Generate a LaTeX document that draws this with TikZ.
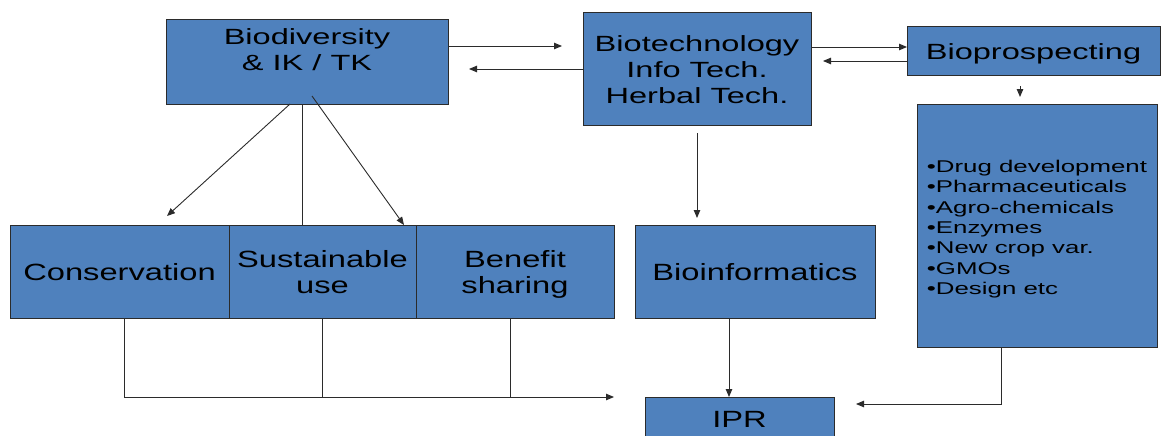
\documentclass[tikz,border=0pt]{standalone}
\usepackage{fontspec}
\setmainfont{Liberation Sans}
\usetikzlibrary{arrows.meta,calc}
\definecolor{boxblue}{HTML}{4F81BD}
\definecolor{edgecol}{HTML}{2B2B2B}
\newcommand{\dn}[1]{\raisebox{-4pt}[\height][\depth]{#1}}
\newcommand{\mt}[1]{\dn{\scalebox{1.48}[1]{\begin{tabular}{@{}c@{}}#1\end{tabular}}}}
\newcommand{\mb}[1]{\dn{\scalebox{1.39}[1]{\begin{tabular}{@{}c@{}}#1\end{tabular}}}}
\begin{document}
\begin{tikzpicture}[x=1pt,y=-1pt,
  box/.style={draw=edgecol, line width=0.9pt, fill=boxblue, inner sep=0pt, outer sep=0pt,
    anchor=north west, font=\fontsize{22}{26}\selectfont, text=black},
  lowbox/.style={box, font=\fontsize{23.5}{26}\selectfont},
  arr/.style={draw=edgecol, line width=0.9pt, -{Triangle[length=8pt,width=6.5pt]}},
  ln/.style={draw=edgecol, line width=0.9pt}]
\useasboundingbox (0,0) rectangle (1162,436);
\clip (0,0) rectangle (1162,436);

% boxes
\node[box, minimum width=282pt, minimum height=85pt] (bio) at (166,19) {\mt{Biodiversity\\\& IK / TK\\ ~}};
\node[box, minimum width=228pt, minimum height=113pt] (biotech) at (583,12) {\mt{Biotechnology\\Info Tech.\\Herbal Tech.}};
\node[box, minimum width=253pt, minimum height=49pt] (bp) at (907,26) {\mt{Bioprospecting}};
\node[box, minimum width=240pt, minimum height=243pt, font=\fontsize{17}{20.3}\selectfont] (list) at (917,104)
  {\dn{\scalebox{1.52}[1]{\begin{tabular}{@{}l@{}}•Drug development\\•Pharmaceuticals\\•Agro-chemicals\\•Enzymes\\•New crop var.\\•GMOs\\•Design etc\end{tabular}}}};
\node[lowbox, minimum width=219pt, minimum height=93pt] (cons) at (10,225) {\mb{Conservation}};
\node[lowbox, minimum width=187pt, minimum height=93pt] (sust) at (229,225) {\mb{Sustainable\\use}};
\node[lowbox, minimum width=198pt, minimum height=93pt] (ben) at (416,225) {\mb{Benefit\\sharing}};
\node[lowbox, minimum width=240pt, minimum height=93pt] (bioinf) at (635,225) {\mb{Bioinformatics}};
\node[lowbox, minimum width=189pt, minimum height=42pt] (ipr) at (645,397) {\mb{IPR}};

% helper coordinates
\coordinate (c1) at (562,46);
\coordinate (c2) at (469,69);
\coordinate (c3) at (0,47);
\coordinate (c4) at (823,61);
\coordinate (c5a) at (1020,86);
\coordinate (c5b) at (1020,97);
\coordinate (c6a) at (697,133);
\coordinate (c6b) at (697,218);
\coordinate (c7) at (729,0);
\coordinate (c8) at (1001,404);
\coordinate (c8e) at (856,404);
\coordinate (c9) at (290,0);
\coordinate (c9e) at (167,216);
\coordinate (c10) at (302,0);
\coordinate (c11) at (312,96);
\coordinate (c11e) at (404,0);
\coordinate (c12a) at (124,397);
\coordinate (c12b) at (322,397);
\coordinate (c12c) at (510,397);
\coordinate (c12e) at (614,397);

% connectors
\draw[arr] (bio.east |- c1) -- (c1);
\draw[arr] (biotech.west |- c2) -- (c2);
\draw[arr] (biotech.east |- c3) -- (bp.west |- c3);
\draw[arr] (bp.west |- c4) -- (c4);
\draw[arr] (c5a) -- (c5b);
\draw[arr] (c6a) -- (c6b);
\draw[arr] (bioinf.south -| c7) -- (ipr.north -| c7);
\draw[arr] (list.south -| c8) -- (c8) -- (c8e);
\draw[arr] (bio.south -| c9) -- (c9e);
\draw[ln] (bio.south -| c10) -- (sust.north -| c10);
\draw[arr] (c11) -- (sust.north -| c11e);
\draw[arr] (cons.south -| c12a) -- (c12a) -- (c12e);
\draw[ln] (sust.south -| c12b) -- (c12b);
\draw[ln] (ben.south -| c12c) -- (c12c);
\end{tikzpicture}
\end{document}
